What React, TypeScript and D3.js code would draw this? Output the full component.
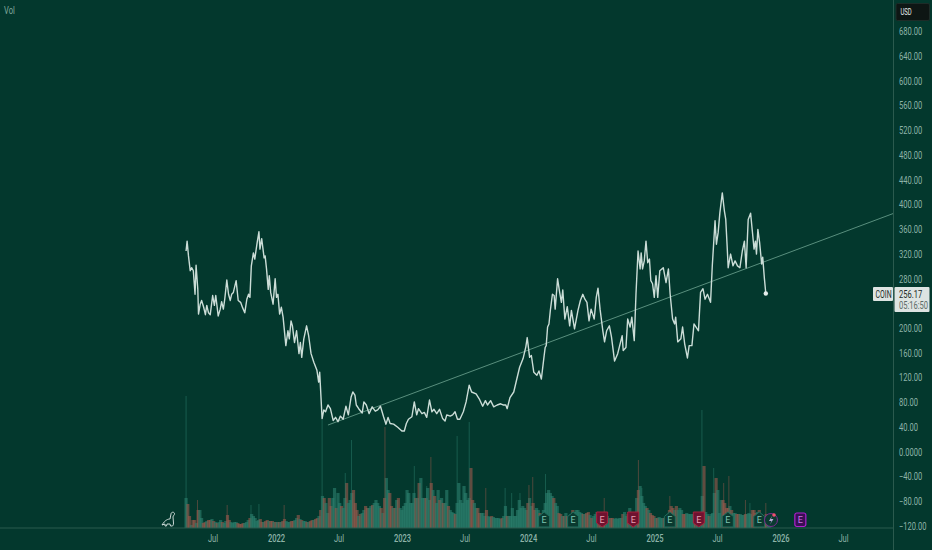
import * as d3 from "d3";

const WIDTH = 932;
const HEIGHT = 550;
const PLOT_RIGHT = 893.5;
const BASELINE = 528;

const LISTING = new Date(Date.UTC(2021, 3, 14));

// close readings: days since listing, and the price on that day
const closeDays = [
  0, 3, 7, 12, 16, 21, 26, 29, 34, 36, 41, 45, 51, 56, 60, 65, 70, 77, 82, 86,
  93, 99, 103, 108, 112, 118, 123, 128, 132, 137, 145, 151, 158, 164, 170, 176, 181, 185, 189, 195,
  199, 206, 211, 214, 219, 226, 229, 233, 238, 241, 245, 252, 258, 262, 266, 271, 276, 281, 289, 295,
  299, 304, 308, 314, 320, 327, 331, 335, 341, 349, 355, 362, 370, 379, 384, 387, 394, 399, 404, 411,
  418, 426, 433, 440, 447, 455, 463, 470, 478, 483, 489, 493, 500, 510, 515, 522, 530, 539, 548, 555,
  563, 572, 579, 585, 591, 601, 613, 625, 632, 638, 644, 654, 661, 668, 673, 683, 690, 697, 705, 712,
  718, 726, 734, 743, 750, 755, 765, 772, 779, 786, 793, 803, 811, 820, 827, 840, 849, 859, 867, 873,
  882, 891, 901, 911, 918, 926, 930, 938, 949, 957, 966, 976, 984, 988, 995, 1000, 1007, 1016, 1022, 1029,
  1036, 1040, 1043, 1047, 1051, 1055, 1061, 1066, 1069, 1076, 1082, 1087, 1091, 1097, 1104, 1111, 1116, 1125, 1135, 1142,
  1149, 1155, 1161, 1167, 1173, 1182, 1188, 1193, 1199, 1207, 1212, 1218, 1226, 1232, 1241, 1250, 1263, 1266, 1274, 1279,
  1286, 1291, 1298, 1303, 1309, 1315, 1318, 1322, 1327, 1332, 1337, 1342, 1346, 1351, 1356, 1361, 1366, 1372, 1382, 1390,
  1397, 1402, 1409, 1415, 1418, 1424, 1433, 1438, 1444, 1452, 1457, 1465, 1471, 1484, 1490, 1497, 1503, 1510, 1519, 1524,
  1532, 1536, 1541, 1546, 1553, 1559, 1563, 1567, 1570, 1577, 1584, 1590, 1597, 1604, 1611, 1617, 1622, 1628, 1635, 1640,
  1645, 1649, 1652, 1656, 1661, 1667, 1670, 1675, 1679,
];
const closes = [
  325, 341, 317, 293, 298, 293, 255, 302, 263, 223, 239, 245, 234, 222, 237, 225, 222, 253, 237, 253,
  220, 231, 243, 231, 247, 278, 255, 245, 255, 258, 277, 245, 242, 233, 225, 247, 255, 250, 301, 322,
  312, 339, 356, 328, 345, 314, 317, 296, 263, 285, 258, 239, 280, 250, 255, 223, 234, 218, 172, 196,
  183, 212, 204, 177, 196, 159, 177, 153, 183, 204, 188, 159, 145, 132, 113, 129, 54, 68, 65, 76,
  70, 51, 56, 49, 58, 53, 74, 60, 89, 97, 92, 76, 70, 63, 81, 76, 62, 73, 66, 68,
  74, 57, 45, 56, 46, 45, 40, 34, 34, 46, 53, 57, 81, 60, 70, 62, 64, 56, 84, 65,
  69, 62, 69, 54, 50, 60, 58, 60, 65, 53, 53, 65, 81, 108, 97, 94, 86, 74, 83, 76,
  83, 73, 76, 78, 76, 76, 70, 88, 97, 116, 137, 151, 170, 185, 153, 156, 129, 124, 131, 118,
  151, 169, 172, 202, 207, 229, 255, 253, 231, 280, 258, 242, 262, 215, 235, 204, 229, 199, 229, 245,
  255, 247, 242, 212, 231, 215, 250, 265, 231, 196, 178, 196, 204, 186, 147, 159, 188, 164, 169, 215,
  202, 218, 180, 255, 325, 296, 322, 296, 309, 341, 306, 312, 277, 272, 250, 285, 250, 293, 298, 274,
  296, 255, 215, 207, 218, 178, 183, 202, 175, 152, 172, 172, 207, 196, 258, 264, 247, 255, 242, 301,
  374, 336, 355, 387, 419, 390, 376, 333, 298, 320, 301, 309, 301, 298, 325, 341, 298, 376, 386, 357,
  328, 341, 320, 360, 339, 304, 315, 280, 256.17,
];

// volume pane has no scale, so values are relative. one reading every 5 days from listing
const VOLUME_STEP = 5;
const volumes = [
  30, 24, 12, 3, 8, 8, 5, 18, 18, 10, 5, 6, 7, 8, 8, 9, 7, 6, 5, 6,
  8, 6, 5, 7, 13, 8, 6, 5, 6, 6, 5, 4, 4, 5, 5, 6, 8, 10, 14, 12,
  10, 7, 8, 9, 6, 6, 7, 8, 7, 7, 7, 6, 6, 6, 6, 6, 7, 9, 7, 6,
  6, 7, 7, 8, 10, 13, 9, 8, 7, 7, 6, 6, 7, 8, 8, 9, 10, 12, 18, 32,
  30, 25, 15, 30, 22, 30, 40, 20, 35, 25, 22, 20, 30, 45, 25, 28, 35, 38, 25, 18,
  12, 14, 15, 18, 22, 20, 20, 22, 23, 25, 28, 25, 22, 20, 15, 30, 50, 38, 35, 22,
  20, 20, 28, 30, 20, 18, 22, 25, 38, 35, 25, 25, 35, 30, 30, 45,
  50, 30, 30, 30, 40, 28, 45, 38, 32, 25, 38, 28, 30, 25, 25, 38, 22, 18, 16, 15,
  14, 25, 45, 28, 25, 42, 35, 28, 30, 60, 28, 25, 20, 20, 15, 15, 15, 12, 18, 12,
  11, 12, 11, 10, 10, 10, 9, 10, 12, 22, 12, 12, 12, 20, 12, 12, 18, 28, 20, 22,
  20, 18, 25, 30, 22, 25, 18, 20, 18, 15, 14, 18, 25, 35, 38, 35, 32, 30, 25, 22,
  15, 14, 12, 12, 15, 12, 12, 14, 18, 16, 18, 18, 16, 15, 14, 14, 15, 16, 13, 10,
  12, 14, 16, 14, 12, 12, 14, 15, 12, 10, 10, 10, 9, 10, 9, 10, 10, 14, 16, 12,
  14, 20, 16, 14, 15, 30, 38, 42, 32, 25, 22, 20, 18, 15, 13, 12, 10, 10, 11, 10,
  10, 10, 11, 10, 18, 22, 20, 18, 22, 18, 20,
  18, 14, 14, 15, 14, 14, 14, 14, 13, 12, 12, 16, 32, 62, 16, 14, 12, 14, 15, 35,
  50, 38, 15, 28, 28, 25, 20, 20, 22, 18, 15, 15, 14, 14, 14, 13, 13, 14, 14, 15,
  14, 18, 18, 15, 16, 18, 14, 12, 12, 14, 10, 8,
];

// single session spikes that stick out of the volume mass
const spikeDays = [
  0, 33, 119, 188, 211, 284, 394, 461, 479, 576, 661, 697, 709, 785, 820, 868, 924, 943, 967, 993,
  1004, 1041, 1211, 1310, 1320, 1401, 1494, 1528, 1557, 1572, 1620, 1633, 1679,
];
const spikeVolumes = [
  132, 28, 23, 23, 24, 23, 108, 55, 88, 101, 62, 42, 71, 92, 106, 40, 40, 35, 35, 43,
  51, 54, 30, 68, 40, 32, 118, 60, 45, 52, 28, 25, 25,
];

const priceTicks = [
  680, 640, 600, 560, 520, 480, 440, 400, 360, 320, 280, 200, 160, 120, 80, 40, 0, -40, -80, -120,
];

const earningsDates = [
  "2024-02-15", "2024-05-09", "2024-08-01", "2024-10-30", "2025-02-13", "2025-05-08", "2025-07-31", "2025-10-30",
];
const earningsBeat = [true, true, false, false, true, false, true, true];
const nextEarningsDate = "2026-02-26";
const dividendDate = "2025-12-03";

const trendDates = ["2022-05-30", "2026-11-24"];
const trendPrices = [43.6, 386];

const lastPrice = 256.17;
const countdown = "05:16:50";

const BG = "#03382d";
const TICK = "#8db3a8";
const BORDER = "#2b5a4e";
const FONT = "Roboto, sans-serif";

const x = d3
  .scaleUtc()
  .domain([new Date(Date.UTC(2021, 6, 1)), new Date(Date.UTC(2026, 6, 1))])
  .range([213, 843.5]);
const y = d3.scaleLinear().domain([0, 400]).range([452, 204.6]);
const volY = d3.scaleLinear().domain([0, 132]).range([BASELINE, BASELINE - 132]);

const dayToDate = (d: number) => d3.utcDay.offset(LISTING, d);

const line = d3
  .line<number>()
  .x((d) => x(dayToDate(d)))
  .y((_, i) => y(closes[i]))
  .curve(d3.curveLinear);

const closeAt = (day: number) => {
  const i = Math.min(d3.bisectLeft(closeDays, day), closes.length - 1);
  return closes[i];
};
const isUp = (day: number) => closeAt(day) >= closeAt(day - VOLUME_STEP);

const UP = "#2c7f6e";
const DOWN = "#99594c";

const timeTicks = d3.utcMonth
  .every(6)!
  .range(new Date(Date.UTC(2021, 6, 1)), new Date(Date.UTC(2026, 6, 2)));
const timeLabel = (d: Date) =>
  d.getUTCMonth() === 0 ? d3.utcFormat("%Y")(d) : d3.utcFormat("%b")(d);

const priceLabel = (v: number) => {
  if (v === 0) return "0.0000";
  return (v < 0 ? "\u2212" : "") + Math.abs(v).toFixed(2);
};

// the reference uses a condensed face, so squeeze Roboto horizontally
const Label = ({
  x: lx,
  y: ly,
  size = 10.5,
  squeeze = 0.72,
  fill,
  anchor = "start",
  weight = 400,
  children,
}: {
  x: number;
  y: number;
  size?: number;
  squeeze?: number;
  fill: string;
  anchor?: string;
  weight?: number;
  children: React.ReactNode;
}) => (
  <text
    transform={`translate(${lx},${ly}) scale(${squeeze},1)`}
    fontSize={size}
    fill={fill}
    textAnchor={anchor}
    fontWeight={weight}
  >
    {children}
  </text>
);

const Marker = ({ date, beat }: { date: string; beat: boolean }) => {
  const cx = x(new Date(date + "T00:00:00Z"));
  const fill = beat ? "#0a3a30" : "#6f1230";
  const stroke = beat ? "#1f6f5e" : "#a8203c";
  const shape = beat
    ? "M-5.5,-10.5 L0,-15 L5.5,-10.5 L5.5,0 L-5.5,0 Z"
    : "M-5.5,-15 L5.5,-15 L5.5,-4 L0,0 L-5.5,-4 Z";
  return (
    <g transform={`translate(${cx},${BASELINE - 1})`}>
      <path d={shape} fill={fill} stroke={stroke} strokeWidth={1} />
      <text x={0} y={-4} textAnchor="middle" fontSize={9} fill={beat ? "#7fc4b0" : "#e8a0b0"}>
        E
      </text>
    </g>
  );
};

export default function App() {
  const volBars = volumes.map((v, i) => ({ day: i * VOLUME_STEP, v }));
  const trendX = trendDates.map((d) => x(new Date(d + "T00:00:00Z")));
  const trendY = trendPrices.map((p) => y(p));
  const endX = x(dayToDate(closeDays[closeDays.length - 1]));
  const endY = y(lastPrice);
  const nextX = x(new Date(nextEarningsDate + "T00:00:00Z"));
  const divX = x(new Date(dividendDate + "T00:00:00Z"));

  return (
    <svg
      width={WIDTH}
      height={HEIGHT}
      style={{ position: "absolute", left: 0, top: 0, background: BG }}
      fontFamily={FONT}
    >
      <defs>
        <clipPath id="plot">
          <rect x={0} y={0} width={PLOT_RIGHT} height={BASELINE} />
        </clipPath>
      </defs>

      <Label x={4} y={14} fill="#7fa79b">
        Vol
      </Label>

      <g clipPath="url(#plot)">
        {volBars.map((b, i) => (
          <rect
            key={i}
            x={x(dayToDate(b.day)) - 1.6}
            y={volY(b.v)}
            width={3.2}
            height={BASELINE - volY(b.v)}
            fill={isUp(b.day) ? UP : DOWN}
            opacity={0.62}
          />
        ))}
        {spikeDays.map((d, i) => (
          <rect
            key={i}
            x={x(dayToDate(d)) - 0.5}
            y={volY(spikeVolumes[i])}
            width={1}
            height={BASELINE - volY(spikeVolumes[i])}
            fill={isUp(d) ? UP : DOWN}
            opacity={0.5}
          />
        ))}

        <line
          x1={trendX[0]}
          y1={trendY[0]}
          x2={trendX[1]}
          y2={trendY[1]}
          stroke="#6fa592"
          strokeWidth={0.8}
        />
        <path d={line(closeDays) || undefined} fill="none" stroke="#cbddd7" strokeWidth={1.4} strokeLinejoin="round" />
        <circle cx={endX} cy={endY} r={2.2} fill="#e4ecea" />
      </g>

      {earningsDates.map((d, i) => (
        <Marker key={d} date={d} beat={earningsBeat[i]} />
      ))}

      <g transform={`translate(${divX},${BASELINE - 8})`}>
        <circle r={6.5} fill="#0a3a30" stroke="#7a2a8f" strokeWidth={1} />
        <path d="M1,-4 L-2,1 L0.5,1 L-1,4.5 L2.5,-1 L0,-1 Z" fill="#b8a8d8" />
        <circle cx={3} cy={-5} r={1.8} fill="#f0506e" />
      </g>
      <g transform={`translate(${nextX},${BASELINE - 8})`}>
        <rect x={-5.5} y={-7} width={11} height={13.5} rx={2} fill="#3a0f55" stroke="#b01fd0" strokeWidth={1.2} />
        <text x={0} y={3} textAnchor="middle" fontSize={9} fill="#d070e8">
          E
        </text>
      </g>

      <line x1={0} x2={PLOT_RIGHT} y1={BASELINE} y2={BASELINE} stroke={BORDER} strokeWidth={1} />
      <line x1={PLOT_RIGHT} x2={PLOT_RIGHT} y1={0} y2={HEIGHT} stroke={BORDER} strokeWidth={1} />

      <g
        transform={`translate(162,${BASELINE - 17})`}
        fill="none"
        stroke="#dfe9e6"
        strokeWidth={0.9}
        strokeLinejoin="round"
      >
        <path d="M0,14 C3,9 6,8 8,8 L9,3 C9,1 12,0.5 12.5,2.5 C12.8,4 11,4.5 11,6 L11.5,12 C11.5,14 11,15 10,15 L8.5,15 L8,13 L5,13 L4.5,15 L3,15 L3,13 Z" />
      </g>

      {timeTicks.map((d) => (
        <Label key={d.getTime()} x={x(d)} y={542} anchor="middle" fill={TICK} weight={d.getUTCMonth() === 0 ? 500 : 400}>
          {timeLabel(d)}
        </Label>
      ))}

      {priceTicks.map((t) => (
        <Label key={t} x={899} y={y(t) + 3.7} fill={TICK}>
          {priceLabel(t)}
        </Label>
      ))}

      <rect x={896} y={3.5} width={33.5} height={17} rx={1.5} fill="#0e1614" stroke="#1d2c28" />
      <Label x={900.5} y={15} size={9} squeeze={0.66} fill="#e6ecea">
        USD
      </Label>

      <rect x={873} y={287} width={20} height={14} rx={1} fill="#dde4e2" />
      <Label x={875.5} y={297.8} squeeze={0.66} fill="#1c2b27">
        COIN
      </Label>
      <rect x={894.5} y={287} width={35} height={25} rx={1} fill="#dde4e2" />
      <Label x={899} y={297.8} fill="#1c2b27">
        {lastPrice.toFixed(2)}
      </Label>
      <Label x={899} y={308.8} fill="#5c6b67">
        {countdown}
      </Label>
    </svg>
  );
}
